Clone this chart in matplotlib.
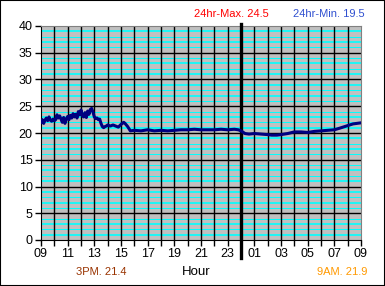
import matplotlib.pyplot as plt
from matplotlib.patches import Rectangle

plt.rcParams['font.family'] = ['Liberation Sans', 'DejaVu Sans']

# hours since midnight of day 1 (09 -> 33 = 09 next day)
hours = [9.0, 9.1, 9.2, 9.3, 9.4, 9.5, 9.6, 9.7, 9.8, 9.9,
         10.0, 10.1, 10.2, 10.3, 10.4, 10.5, 10.6, 10.7, 10.8, 10.9,
         11.0, 11.1, 11.2, 11.3, 11.4, 11.5, 11.6, 11.7, 11.8, 11.9,
         12.0, 12.1, 12.2, 12.3, 12.4, 12.5, 12.6, 12.7, 12.8, 12.9,
         13.0, 13.1, 13.2, 13.3, 13.4, 13.5, 13.6, 13.7, 13.8, 13.9,
         14.0, 14.2, 14.4, 14.6, 14.8, 15.0, 15.2, 15.3, 15.5, 15.7,
         16.0, 16.5, 17.0, 17.5, 18.0, 18.5, 19.0, 19.5, 20.0, 20.5,
         21.0, 21.5, 22.0, 22.5, 23.0, 23.5, 23.8, 24.0, 24.3, 24.6,
         25.0, 25.5, 26.0, 26.3, 26.7, 27.0, 27.5, 28.0, 28.5, 29.0,
         29.5, 30.0, 30.5, 31.0, 31.4, 31.9, 32.4, 32.7, 33.0]
temps = [22.0, 22.5, 21.8, 22.4, 22.8, 22.3, 23.0, 22.4, 22.2, 22.6,
         22.3, 22.5, 23.4, 22.8, 23.2, 22.6, 22.0, 22.9, 21.8, 22.6,
         23.1, 22.5, 23.3, 22.8, 23.6, 23.0, 23.5, 22.8, 24.0, 23.4,
         24.3, 23.2, 23.0, 23.8, 22.9, 24.1, 23.5, 24.4, 24.6, 23.9,
         23.0, 22.7, 22.8, 22.5, 22.6, 21.8, 21.2, 21.0, 21.2, 21.3,
         21.5, 21.3, 21.5, 21.3, 21.1, 21.6, 22.0, 21.8, 21.2, 20.4,
         20.5, 20.4, 20.6, 20.4, 20.5, 20.4, 20.5, 20.6, 20.6, 20.7,
         20.6, 20.6, 20.6, 20.7, 20.6, 20.7, 20.6, 20.4, 19.9, 19.8,
         19.9, 19.8, 19.7, 19.6, 19.6, 19.7, 19.9, 20.2, 20.2, 20.1,
         20.3, 20.4, 20.5, 20.6, 20.9, 21.3, 21.7, 21.8, 21.9]

hour_ticks = list(range(9, 34))
hour_labels = ['09', '11', '13', '15', '17', '19', '21', '23',
               '01', '03', '05', '07', '09']

max_text = '24hr-Max. 24.5'
min_text = '24hr-Min. 19.5'
pm_text = '3PM. 21.4'
am_text = '9AM. 21.9'

fig = plt.figure(figsize=(3.85, 2.86), dpi=100)
ax = fig.add_axes([41/385, 1-240/286, 320/385, 214/286])
ax.set_facecolor('#c0c0c0')

# minor cyan gridlines at every unit, black at every 5
for v in range(1, 40):
    if v % 5:
        ax.axhline(v, color='#00ffff', lw=1.2 if v % 2 else 0.7, zorder=1)
    else:
        ax.axhline(v, color='black', lw=1.0, zorder=1.5)
for h in hour_ticks[1:-1]:
    ax.axvline(h, color='black', lw=1.0, zorder=1.5)

ax.axvline(24, ymin=-0.084, ymax=1.01, color='black', lw=2.4,
           clip_on=False, zorder=3)

ax.plot(hours, temps, color='#000080', lw=2.2, zorder=4)

ax.set_xlim(9, 33)
ax.set_ylim(0, 40)
ax.set_yticks(range(0, 41, 5))
ax.set_xticks(hour_ticks)
ax.set_xticklabels([hour_labels[i // 2] if i % 2 == 0 else ''
                    for i in range(len(hour_ticks))])
ax.tick_params(axis='both', direction='out', length=4, width=1,
               labelsize=9, colors='black', pad=2)

for s in ['top', 'right']:
    ax.spines[s].set_color('#808080')
for s in ['left', 'bottom']:
    ax.spines[s].set_color('black')

fig.text(231/385, 1-14/286, max_text, color='#ff0000', fontsize=8,
         ha='center', va='center')
fig.text(329/385, 1-14/286, min_text, color='#3050d0', fontsize=8,
         ha='center', va='center')
fig.text(101/385, 1-272/286, pm_text, color='#993300', fontsize=8,
         ha='center', va='center')
fig.text(196/385, 1-272/286, 'Hour', color='black', fontsize=9.5,
         ha='center', va='center')
fig.text(342/385, 1-272/286, am_text, color='#ff9900', fontsize=8,
         ha='center', va='center')

fig.patches.append(Rectangle((0, 0), 1, 1, transform=fig.transFigure,
                             fill=False, edgecolor='black', lw=1.5))

fig.savefig('out.png', dpi=100, facecolor='white')
